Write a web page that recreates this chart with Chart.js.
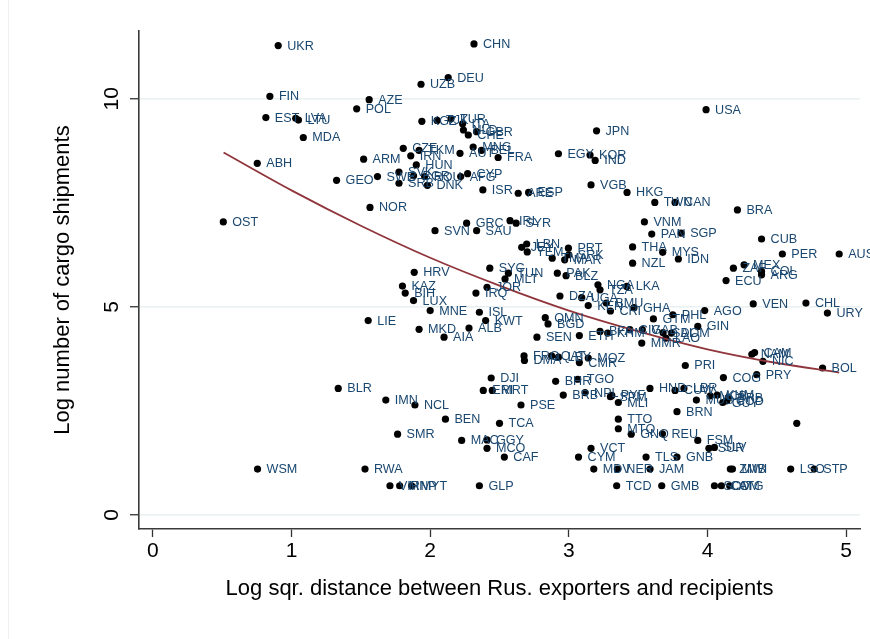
<!DOCTYPE html>
<html><head><meta charset="utf-8">
<script src="https://cdn.jsdelivr.net/npm/chart.js@4.4.0/dist/chart.umd.min.js"></script>
<style>html,body{margin:0;padding:0;background:#fff;}#wrap{position:relative;width:870px;height:639px;}</style>
</head><body><div id="wrap"><canvas id="c" width="870" height="639"></canvas></div>
<script>
const countries = ["UKR","CHN","FIN","DEU","UZB","AZE","POL","USA","EST","LVA","LTU","MDA","KGZ","TJK","TUR","ITA","NLD","CHE","GBR","JPN",
"ABH","ARM","CZE","TKM","IRN","HUN","AUT","MNG","BEL","FRA","EGY","KOR","IND","GEO","SWE","SVK","SRB","BGR","ROU","DNK",
"AFG","CYP","ISR","ARE","ESP","VGB","HKG","TWN","CAN","BRA","OST","NOR","SVN","GRC","SAU","IRL","SYR","VNM","PAN","SGP",
"CUB","LBN","JEY","YEM","PRT","SRK","TMA","MAR","THA","MYS","IDN","PER","AUS","NZL","ZAF","MEX","COL","ARG","ECU","SYC",
"TUN","MLT","JOR","IRQ","HRV","KAZ","BIH","LUX","LIE","MNE","ISL","KWT","MKD","ALB","AIA","PAK","BLZ","DZA","UGA","KEN",
"NGA","TZA","LKA","BMU","CRI","GHA","GTM","PHL","AGO","VEN","CHL","URY","GIN","DOM","SAL","CIV","GAB","MMR","LAO","OMN",
"BGD","SEN","ETH","BFA","KHM","NAM","CAM","NIC","BOL","PRI","PRY","COG","HND","CUW","LBR","MUS","MCB","KHM","GUY","BRB",
"COD","BRN","","GNQ","REU","FSM","SUR","SLV","TLS","GNB","JAM","MDV","NER","ZMB","MWI","LSO","STP","TCD","GMB","SOM",
"COM","ATG","FRO","DMA","QAT","LBY","MOZ","CMR","DJI","ERI","MRT","BHR","TGO","BRB","NPL","SPM","PYF","MLI","IMN","NCL",
"PSE","BEN","TCA","TTO","MTQ","SMR","MAC","GGY","MCO","CAF","VCT","CYM","RWA","VIR","MNP","MYT","GLP","BLR","WSM"];
const distance = [0.904,2.316,0.844,2.13,1.934,1.56,1.47,3.99,0.815,1.03,1.05,1.085,1.94,2.05,2.15,2.234,2.24,2.275,2.335,3.20,
0.753,1.52,1.806,1.92,1.86,1.90,2.215,2.31,2.37,2.49,2.925,3.153,3.19,1.325,1.62,1.775,1.775,1.88,1.96,1.98,
2.22,2.27,2.38,2.635,2.71,3.16,3.42,3.62,3.766,4.216,0.508,1.566,2.035,2.263,2.335,2.576,2.62,3.545,3.598,3.81,
4.39,2.696,2.66,2.70,2.997,3.00,2.88,2.97,3.46,3.677,3.79,4.54,4.95,3.46,4.187,4.264,4.39,4.39,4.134,2.43,
2.564,2.54,2.41,2.33,1.885,1.80,1.82,1.88,1.553,2.00,2.355,2.40,1.92,2.28,2.10,2.917,2.98,2.936,3.093,3.14,
3.21,3.225,3.418,3.27,3.30,3.47,3.61,3.75,3.98,4.33,4.71,4.865,3.93,3.74,3.68,3.44,3.53,3.526,3.70,2.83,
2.85,2.77,3.076,3.225,3.28,4.32,4.34,4.40,4.83,3.84,4.355,4.115,3.585,3.766,3.83,3.92,4.02,4.07,4.11,4.15,
4.14,3.78,4.644,3.45,3.675,3.93,4.01,4.05,3.557,3.78,3.586,3.18,3.35,4.165,4.18,4.60,4.77,3.345,3.67,4.05,
4.10,4.16,2.677,2.68,2.876,2.925,3.14,3.076,2.44,2.383,2.448,2.905,3.064,2.96,3.117,3.30,3.31,3.357,1.68,1.89,
2.655,2.11,2.50,3.357,3.357,1.765,2.227,2.41,2.41,2.535,3.16,3.07,1.53,1.71,1.78,1.866,2.355,1.337,0.755];
const shipments = [11.28,11.32,10.06,10.51,10.35,9.98,9.76,9.74,9.55,9.53,9.49,9.07,9.46,9.48,9.52,9.40,9.25,9.13,9.21,9.23,
8.45,8.55,8.81,8.76,8.63,8.41,8.69,8.84,8.76,8.59,8.68,8.65,8.52,8.04,8.13,8.24,7.97,8.15,8.13,7.92,
8.13,8.20,7.81,7.73,7.75,7.93,7.75,7.51,7.51,7.33,7.04,7.39,6.83,7.01,6.83,7.07,7.01,7.04,6.75,6.77,
6.63,6.51,6.43,6.32,6.41,6.25,6.17,6.13,6.44,6.31,6.15,6.27,6.27,6.05,5.93,6.01,5.85,5.77,5.63,5.93,
5.81,5.67,5.47,5.33,5.83,5.50,5.33,5.15,4.67,4.91,4.87,4.67,4.46,4.49,4.27,5.81,5.75,5.26,5.22,5.03,
5.53,5.41,5.49,5.09,4.90,4.98,4.71,4.81,4.91,5.07,5.09,4.85,4.53,4.37,4.38,4.45,4.45,4.13,4.25,4.74,
4.59,4.27,4.31,4.41,4.37,3.86,3.90,3.69,3.53,3.59,3.37,3.30,3.04,2.99,3.04,2.76,2.86,2.88,2.70,2.82,
2.74,2.48,2.20,1.94,1.95,1.79,1.60,1.62,1.39,1.39,1.10,1.10,1.10,1.10,1.10,1.10,1.10,0.70,0.70,0.70,
0.70,0.70,3.82,3.71,3.82,3.79,3.77,3.66,3.29,2.99,2.99,3.21,3.26,2.88,2.94,2.84,2.87,2.70,2.76,2.64,
2.64,2.30,2.20,2.30,2.07,1.94,1.79,1.80,1.60,1.39,1.60,1.39,1.10,0.70,0.70,0.70,0.70,3.04,1.10];
const fitX = [0.51,1.0,1.5,2.0,2.5,3.0,3.5,4.0,4.5,4.95];
const fitY = [8.71,7.80,6.95,6.18,5.51,4.91,4.41,3.98,3.65,3.42];
const xTicks = [0,1,2,3,4,5];
const yTicks = [0,5,10];
const xTitle = "Log sqr. distance between Rus. exporters and recipients";
const yTitle = "Log number of cargo shipments";

const FONT = "'Liberation Sans', Arial, sans-serif";
const pts = countries.map((c,i)=>({x:distance[i], y:shipments[i], label:c}));
const fit = fitX.map((x,i)=>({x:x, y:fitY[i]}));

const framePlugin = {
  id:'frame',
  beforeDraw(chart){
    const ctx = chart.ctx;
    ctx.save();
    ctx.strokeStyle = '#edf1f3';
    ctx.lineWidth = 1;
    ctx.beginPath();
    ctx.moveTo(8.5, 0); ctx.lineTo(8.5, 639);
    ctx.stroke();
    ctx.restore();
  }
};
const labelPlugin = {
  id:'labels',
  afterDatasetsDraw(chart){
    const ctx = chart.ctx;
    const meta = chart.getDatasetMeta(1);
    ctx.save();
    ctx.font = "12.6px " + FONT;
    ctx.fillStyle = 'rgb(26,71,111)';
    ctx.textAlign = 'left';
    ctx.textBaseline = 'middle';
    meta.data.forEach((el,i)=>{
      const l = pts[i].label;
      if (l) ctx.fillText(l, el.x + 9, el.y + 0.5);
    });
    ctx.restore();
  }
};
const yLabelPlugin = {
  id:'ylabels',
  afterDraw(chart){
    const ctx = chart.ctx, ys = chart.scales.y;
    ctx.save();
    ctx.font = "21px " + FONT;
    ctx.fillStyle = '#000';
    ctx.textAlign = 'center';
    ctx.textBaseline = 'middle';
    yTicks.forEach(v=>{
      const py = ys.getPixelForValue(v);
      ctx.save();
      ctx.translate(112, py);
      ctx.rotate(-Math.PI/2);
      ctx.fillText(String(v), 0, 0);
      ctx.restore();
    });
    ctx.restore();
  }
};

new Chart(document.getElementById('c'), {
  type:'scatter',
  data:{datasets:[
    {type:'line', data:fit, borderColor:'rgb(144,53,59)', borderWidth:1.8, pointRadius:0, fill:false, cubicInterpolationMode:'monotone', order:0},
    {data:pts, backgroundColor:'#000', borderWidth:0, pointRadius:3.6, pointHoverRadius:3.6, order:1}
  ]},
  options:{
    responsive:false, animation:false, devicePixelRatio:1,
    layout:{padding:{top:31,right:10,left:0,bottom:0}},
    plugins:{legend:{display:false}, tooltip:{enabled:false}},
    scales:{
      x:{type:'linear', min:-0.1, max:5.1,
        afterBuildTicks:s=>{s.ticks = xTicks.map(v=>({value:v}));},
        afterFit:s=>{s.height = 110;},
        ticks:{font:{family:FONT,size:21}, color:'#000', padding:2, maxRotation:0},
        grid:{drawOnChartArea:false, tickLength:8, tickColor:'#333', tickWidth:1.3},
        border:{color:'#3a3a3a', width:1.6},
        title:{display:true, text:xTitle, font:{family:FONT,size:22}, color:'#000', padding:{top:4,bottom:37}}
      },
      y:{type:'linear', min:-0.34, max:11.63,
        afterBuildTicks:s=>{s.ticks = yTicks.map(v=>({value:v}));},
        afterFit:s=>{s.width = 139;},
        ticks:{callback:()=>'', padding:0},
        grid:{color:'#e8f0f2', lineWidth:1.5, tickLength:9, tickColor:'#333', tickWidth:1.3},
        border:{color:'#3a3a3a', width:1.6},
        title:{display:true, text:yTitle, font:{family:FONT,size:22}, color:'#000', padding:{top:50,bottom:0}}
      }
    }
  },
  plugins:[framePlugin, labelPlugin, yLabelPlugin]
});
</script></body></html>
